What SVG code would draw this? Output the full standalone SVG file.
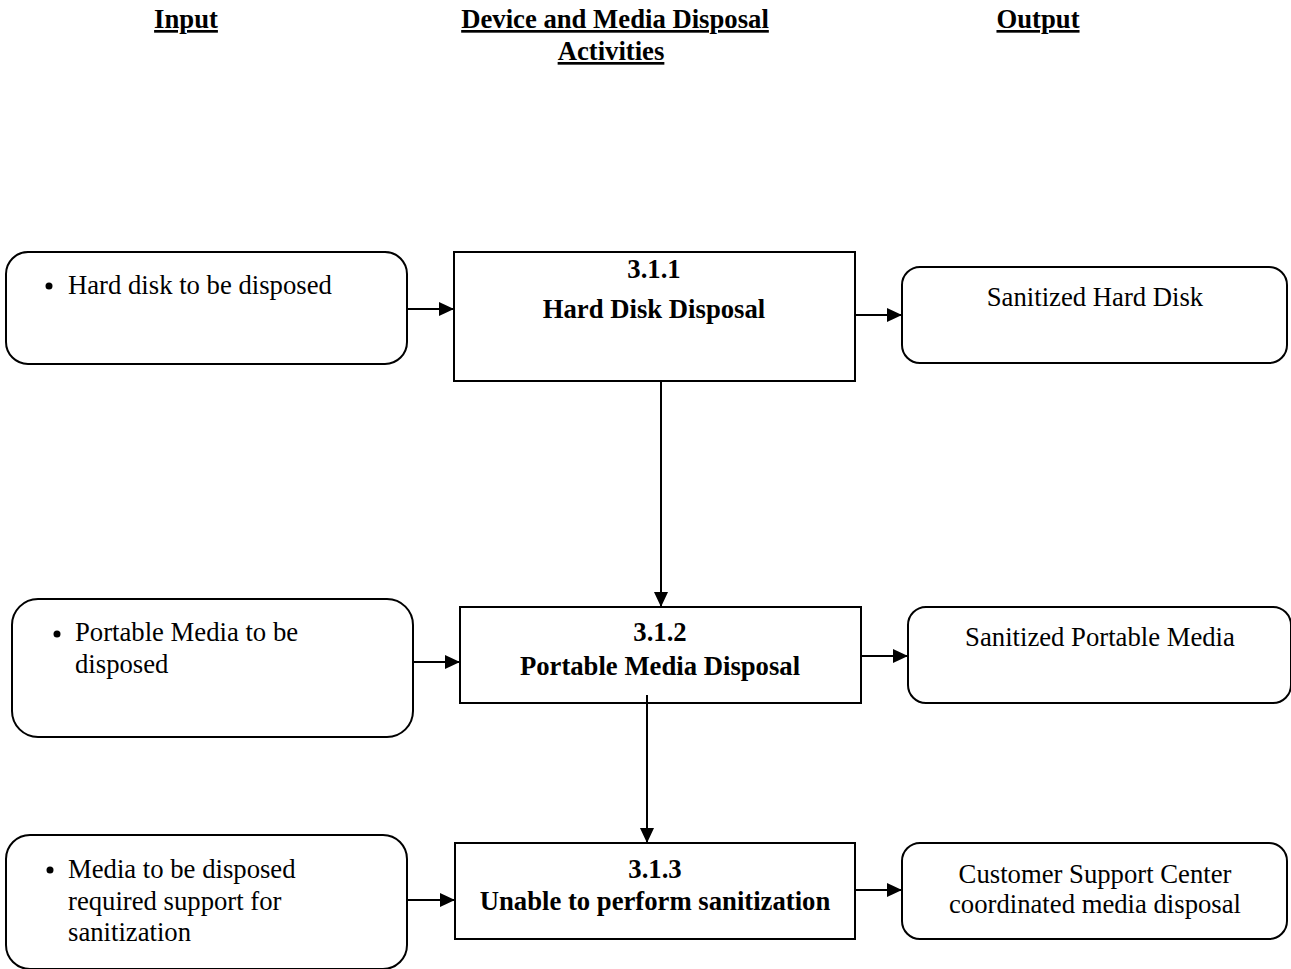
<svg xmlns="http://www.w3.org/2000/svg" width="1291" height="969" viewBox="0 0 1291 969">
<style>
text{font-family:"Liberation Serif","Times New Roman",serif;font-size:26.7px;fill:#000}
.b{font-weight:bold}
.h{font-weight:bold;text-decoration:underline}
.c{text-anchor:middle}
.box{fill:#fff;stroke:#000;stroke-width:2}
.con line{stroke:#000;stroke-width:2}
</style>
<defs>
<marker id="ah" markerWidth="15" markerHeight="14" refX="15" refY="7" orient="auto" markerUnits="userSpaceOnUse">
<path d="M0,0 L15,7 L0,14 Z" fill="#000"/>
</marker>
</defs>
<g id="headers">
<text class="h c" x="186" y="28">Input</text>
<text class="h c" x="615" y="28">Device and Media Disposal </text>
<text class="h c" x="611" y="60">Activities</text>
<text class="h c" x="1038" y="28">Output</text>
</g>
<g id="in1">
<rect class="box" x="6" y="252" width="401" height="112" rx="22"/>
<circle cx="49" cy="286" r="3.5"/>
<text x="68" y="294">Hard disk to be disposed</text>
</g>
<g id="act1">
<rect class="box" x="454" y="252" width="401" height="129"/>
<text class="b c" x="654" y="278">3.1.1</text>
<text class="b c" x="654" y="318">Hard Disk Disposal</text>
</g>
<g id="out1">
<rect class="box" x="902" y="267" width="385" height="96" rx="18"/>
<text class="c" x="1095" y="306">Sanitized Hard Disk</text>
</g>
<g id="in2">
<rect class="box" x="12" y="599" width="401" height="138" rx="26"/>
<circle cx="57" cy="634" r="3.5"/>
<text x="75" y="641">Portable Media to be</text>
<text x="75" y="673">disposed</text>
</g>
<g id="act2">
<rect class="box" x="460" y="607" width="401" height="96"/>
<text class="b c" x="660" y="641">3.1.2</text>
<text class="b c" x="660" y="675">Portable Media Disposal</text>
</g>
<g id="out2">
<rect class="box" x="908" y="607" width="383" height="96" rx="18"/>
<text class="c" x="1100" y="646">Sanitized Portable Media</text>
</g>
<g id="in3">
<rect class="box" x="6" y="835" width="401" height="134" rx="24"/>
<circle cx="50" cy="870" r="3.5"/>
<text x="68" y="878">Media to be disposed</text>
<text x="68" y="910">required support for</text>
<text x="68" y="941">sanitization</text>
</g>
<g id="act3">
<rect class="box" x="455" y="843" width="400" height="96"/>
<text class="b c" x="655" y="878">3.1.3</text>
<text class="b c" x="655" y="910">Unable to perform sanitization</text>
</g>
<g id="out3">
<rect class="box" x="902" y="843" width="385" height="96" rx="18"/>
<text class="c" x="1095" y="883">Customer Support Center</text>
<text class="c" x="1095" y="913">coordinated media disposal</text>
</g>
<g id="connectors" class="con">
<line x1="407" y1="309" x2="454" y2="309" marker-end="url(#ah)"/>
<line x1="855" y1="315" x2="902" y2="315" marker-end="url(#ah)"/>
<line x1="661" y1="381" x2="661" y2="607" marker-end="url(#ah)"/>
<line x1="413" y1="662" x2="460" y2="662" marker-end="url(#ah)"/>
<line x1="861" y1="656" x2="908" y2="656" marker-end="url(#ah)"/>
<line x1="647" y1="695" x2="647" y2="843" marker-end="url(#ah)"/>
<line x1="407" y1="900" x2="455" y2="900" marker-end="url(#ah)"/>
<line x1="855" y1="890" x2="902" y2="890" marker-end="url(#ah)"/>
</g>
</svg>
